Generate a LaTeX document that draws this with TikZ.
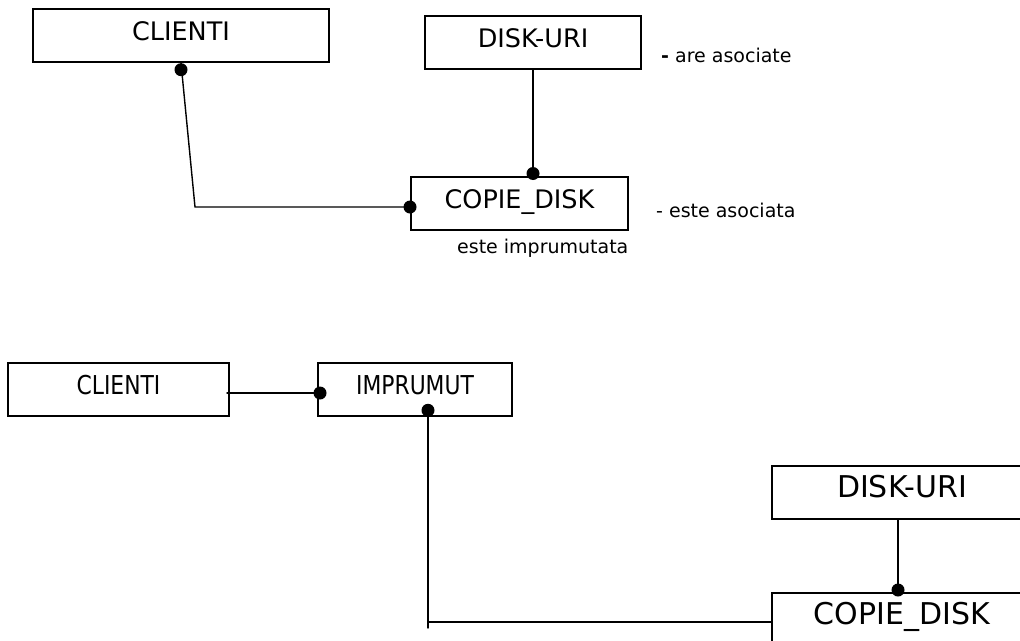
\documentclass[tikz,border=0pt]{standalone}
\usepackage{fontspec}
\setmainfont{DejaVu Sans}
\newfontfamily\narrowfont[FakeStretch=0.84]{DejaVu Sans}
\usetikzlibrary{arrows.meta}

\tikzset{
  entity/.style={draw,line width=2pt,inner sep=0pt,minimum height=53pt,
    text height=20pt,text depth=10pt,font=\fontsize{25.5}{30}\selectfont},
  link/.style={line width=1.4pt},
  dot/.style={circle,fill,inner sep=0pt,minimum size=13pt},
  role/.style={anchor=west,inner sep=0pt,font=\fontsize{19}{23}\selectfont}
}

\begin{document}
\begin{tikzpicture}[x=1pt,y=-1pt,line cap=round]
      \clip (0,0) rectangle (1020,640);

      % top diagram
      \node[entity,minimum width=296pt] (clienti) at (181,35.5) {CLIENTI};
      \node[entity,minimum width=216pt] (disk) at (533,42) {DISK-URI};
      \node[entity,minimum width=217pt] (copie) at (519.5,203) {COPIE\_DISK};
      \node[role] (areasoc) at (661,55) {\textbf{-} are asociate};
      \node[role] (esteasoc) at (656,210) {- este asociata};
      \node[role] (esteimpr) at (457,248) {este imprumutata};

      \coordinate (bend) at (195,207);
      \draw[link] (clienti.south) -- (bend) -- ([yshift=-4pt]copie.west);
      \node[dot,anchor=north] (dcl) at (clienti.south) {};
      \node[dot] (dcp) at ([yshift=-4pt]copie.west) {};
      \draw[link] (disk.south) -- (disk.south |- copie.north);
      \node[dot] (ddk) at ([yshift=2pt]disk.south |- copie.north) {};

      % bottom diagram
      \node[entity,minimum width=221pt,font=\narrowfont\fontsize{26}{30}\selectfont]
        (clienti2) at (118.5,389.5) {CLIENTI};
      \node[entity,minimum width=194pt,font=\narrowfont\fontsize{26}{30}\selectfont]
        (imprumut) at (415,389.5) {IMPRUMUT};
      \node[entity,minimum width=260pt,font=\fontsize{30}{34}\selectfont]
        (disk2) at (902,492.5) {DISK-URI};
      \node[entity,minimum width=260pt,font=\fontsize{30}{34}\selectfont]
        (copie2) at (902,619.5) {COPIE\_DISK};

      \draw[link] ([xshift=-3pt,yshift=-3.5pt]clienti2.east) -- ([yshift=-3.5pt]imprumut.west);
      \node[dot] (dim) at ([xshift=3pt,yshift=-3.5pt]imprumut.west) {};
      \node[dot,anchor=south] (dimb) at ([xshift=13pt]imprumut.south) {};
      \coordinate (corner) at (428,622);
      \draw[link] (dimb.center) -- ([yshift=-6pt]corner);
      \draw[link] (corner) -- (copie2.west |- corner);
      \draw[link] ([xshift=-4pt]disk2.south) -- ([xshift=-4pt]copie2.north);
      \node[dot] (dcp2) at ([xshift=-4pt,yshift=2pt]copie2.north) {};
\end{tikzpicture}
\end{document}
